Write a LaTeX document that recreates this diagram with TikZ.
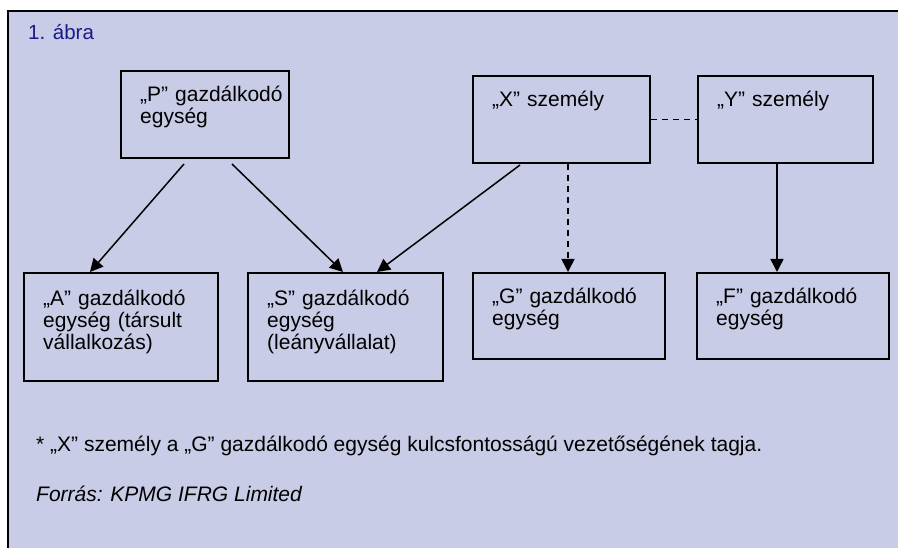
\documentclass[tikz,border=0pt]{standalone}
\usepackage{fontspec}
\setmainfont{Liberation Sans}
\usetikzlibrary{arrows.meta,calc}
\definecolor{bgcol}{HTML}{C8CCE6}
\definecolor{navycol}{HTML}{1A1A8C}
\begin{document}
\begin{tikzpicture}[x=1pt,y=-1pt,
  box/.style={draw=black,line width=2pt,anchor=north west,inner sep=0pt},
  lbl/.style={anchor=base west,inner sep=0pt,text width=172pt,align=left,font=\fontsize{21}{22}\selectfont},
  arr/.style={line width=1.5pt,-{Triangle[length=13pt,width=13pt]}},
  dsh/.style={dash pattern=on 6pt off 5pt},
  note/.style={anchor=base west,inner sep=0pt,font=\fontsize{21}{22}\selectfont}]
\useasboundingbox (0,0) rectangle (898,548);
\fill[bgcol] (8,11) rectangle (898,548);
\draw[line width=2pt] (8,548) -- (8,11) -- (898,11);
\node[anchor=base west,inner sep=0pt,text=navycol,font=\fontsize{20.5}{21.5}\selectfont] (title) at (28,40) {1. ábra};
% boxes
\node[box,minimum width=168pt,minimum height=87pt] (P) at (120,70) {};
\node[box,minimum width=177pt,minimum height=87pt] (X) at (472,75) {};
\node[box,minimum width=175pt,minimum height=87pt] (Y) at (697,75) {};
\node[box,minimum width=194pt,minimum height=108pt] (A) at (23,272) {};
\node[box,minimum width=195pt,minimum height=108pt] (S) at (247,272) {};
\node[box,minimum width=192pt,minimum height=86pt] (G) at (472,272) {};
\node[box,minimum width=192pt,minimum height=86pt] (F) at (696,272) {};
% labels
\node[lbl] (Pt) at ($(P.north west)+(20,32)$) {„P” gazdálkodó\\egység};
\node[lbl] (Xt) at ($(X.north west)+(20,32)$) {„X” személy};
\node[lbl] (Yt) at ($(Y.north west)+(20,32)$) {„Y” személy};
\node[lbl] (At) at ($(A.north west)+(20,34)$) {„A” gazdálkodó\\egység (társult\\vállalkozás)};
\node[lbl] (St) at ($(S.north west)+(20,34)$) {„S” gazdálkodó\\egység\\(leányvállalat)};
\node[lbl] (Gt) at ($(G.north west)+(20,32)$) {„G” gazdálkodó\\egység};
\node[lbl] (Ft) at ($(F.north west)+(20,32)$) {„F” gazdálkodó\\egység};
% connectors
\draw[arr] ([shift={(64,5)}]P.south west) -- ([xshift=67pt]A.north west);
\draw[arr] ([shift={(112,5)}]P.south west) -- ([xshift=96pt]S.north west);
\draw[arr] ([shift={(48,1)}]X.south west) -- ([xshift=130pt]S.north west);
\draw[arr,dsh] ([xshift=96pt]X.south west) -- ([xshift=96pt]G.north west);
\draw[arr] ([xshift=80pt]Y.south west) -- ([xshift=81pt]F.north west);
\draw[line width=1.5pt,dsh] (X.east) -- (Y.west);
% notes
\node[note] (fn) at (36,451) {* „X” személy a „G” gazdálkodó egység kulcsfontosságú vezetőségének tagja.};
\node[note] (src) at (36,501) {\itshape Forrás: KPMG IFRG Limited};
\end{tikzpicture}
\end{document}
